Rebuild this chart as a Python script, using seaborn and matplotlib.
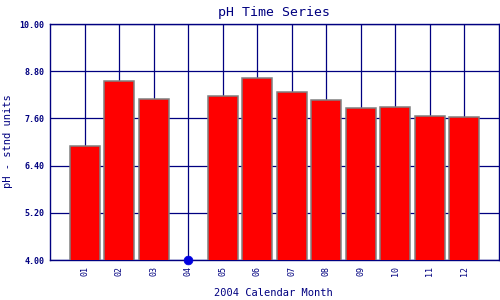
import numpy as np
import pandas as pd
import matplotlib
matplotlib.use("Agg")
import matplotlib.pyplot as plt
import seaborn as sns

months = ["01", "02", "03", "04", "05", "06", "07", "08", "09", "10", "11", "12"]
ph_values = [6.90, 8.55, 8.09, np.nan, 8.16, 8.62, 8.26, 8.07, 7.86, 7.88, 7.65, 7.63]
y_ticks = [4.00, 5.20, 6.40, 7.60, 8.80, 10.00]
y_tick_labels = ["4.00", "5.20", "6.40", "7.60", "8.80", "10.00"]

NAVY = "#000080"
sns.set_style("white")
plt.rcParams["font.family"] = ["DejaVu Sans Mono", "DejaVu Sans"]

df = pd.DataFrame({"month": months, "ph": ph_values})

fig = plt.figure(figsize=(5, 3), dpi=100)
ax = fig.add_axes([0.1, 0.1333, 0.898, 0.7867])

sns.barplot(data=df, x="month", y="ph", order=months, color="#ff0000",
            saturation=1, width=0.87, edgecolor="#808080", linewidth=1.1,
            ax=ax, zorder=3, errorbar=None)

missing = df[df["ph"].isna()].assign(ph=y_ticks[0])
sns.scatterplot(data=missing, x="month", y="ph", color="#0000e0", s=40,
                edgecolor="#0000e0", ax=ax, zorder=5, clip_on=False)

ax.set_xlim(-1, len(months))
ax.set_ylim(y_ticks[0], y_ticks[-1])
ax.set_yticks(y_ticks)
ax.set_yticklabels(y_tick_labels, fontsize=6, fontweight="bold", color=NAVY)
ax.set_xticks(range(len(months)))
ax.set_xticklabels(months, rotation=90, fontsize=6, color=NAVY)
ax.tick_params(length=0, pad=4)

ax.grid(True, color=NAVY, linewidth=0.9, zorder=0)
ax.set_axisbelow(True)
for s in ax.spines.values():
    s.set_color(NAVY)
    s.set_linewidth(1.0)
    s.set_visible(True)

ax.set_title("pH Time Series", fontsize=9.5, color=NAVY, pad=6)
ax.set_xlabel("")
ax.set_ylabel("")
fig.text(273 / 500, 1 - 293 / 300, "2004 Calendar Month", fontsize=7.5,
         color=NAVY, ha="center", va="center")
fig.text(8 / 500, 1 - 141 / 300, "pH - stnd units", fontsize=7.5,
         color=NAVY, ha="center", va="center", rotation=90)

fig.savefig("out.png", dpi=100)
